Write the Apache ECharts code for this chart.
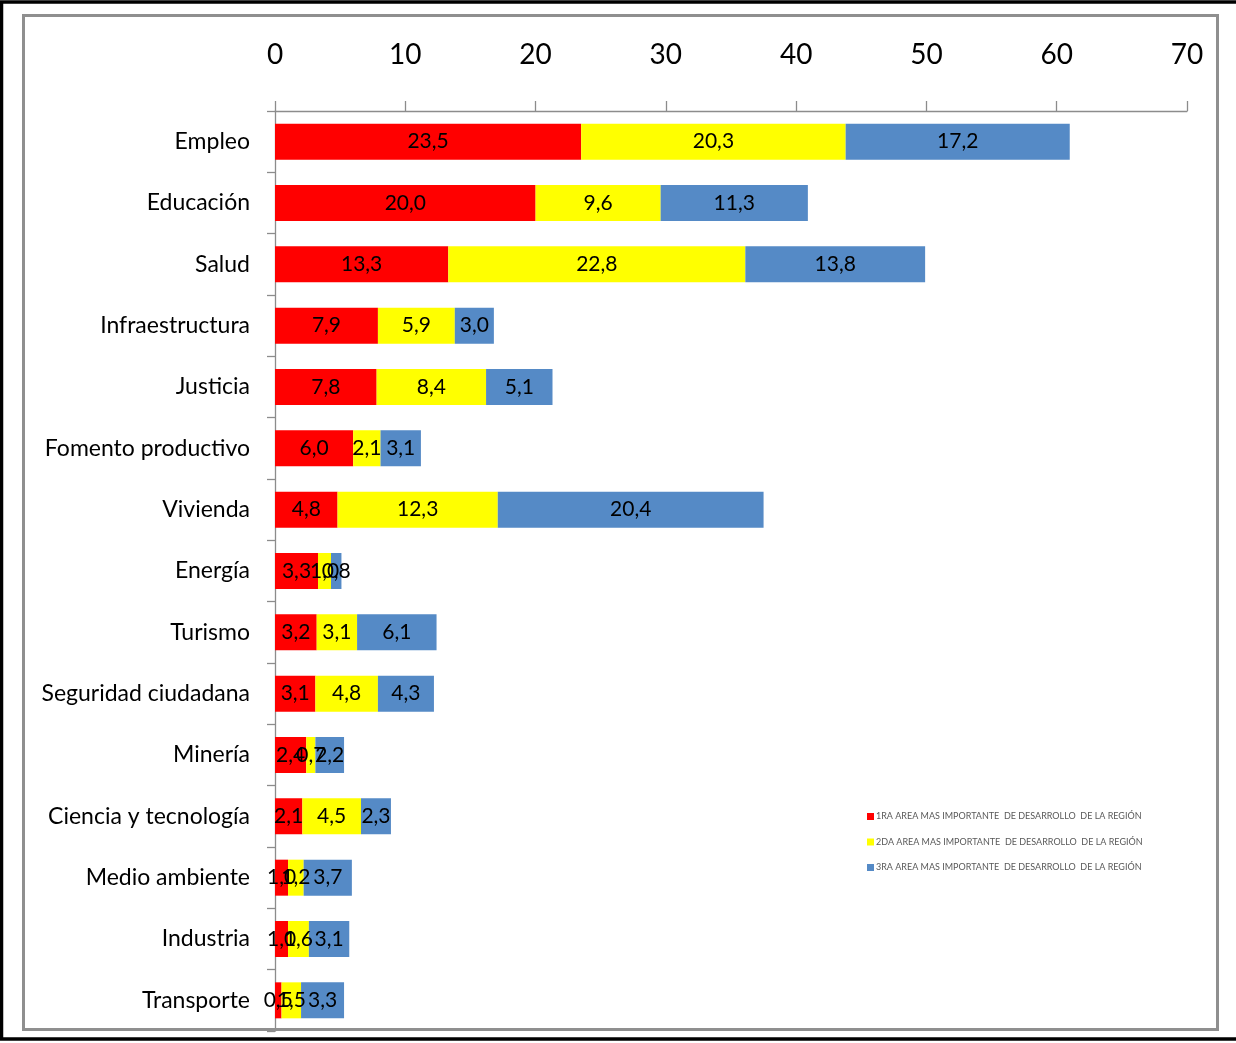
<!DOCTYPE html>
<html>
<head>
<meta charset="utf-8">
<script src="https://cdn.jsdelivr.net/npm/echarts@6/dist/echarts.min.js"></script>
<style>
html,body{margin:0;padding:0;background:#fff;}
#c{width:1236px;height:1043px;}
</style>
</head>
<body>
<div id="c"></div>
<script>
const categories = ["Empleo","Educación","Salud","Infraestructura","Justicia","Fomento productivo","Vivienda","Energía","Turismo","Seguridad ciudadana","Minería","Ciencia y tecnología","Medio ambiente","Industria","Transporte"];
const seriesNames = ["1RA AREA MAS IMPORTANTE  DE DESARROLLO  DE LA REGIÓN","2DA AREA MAS IMPORTANTE  DE DESARROLLO  DE LA REGIÓN","3RA AREA MAS IMPORTANTE  DE DESARROLLO  DE LA REGIÓN"];
const primera = [23.5,20.0,13.3,7.9,7.8,6.0,4.8,3.3,3.2,3.1,2.4,2.1,1.0,1.0,0.5];
const segunda = [20.3,9.6,22.8,5.9,8.4,2.1,12.3,1.0,3.1,4.8,0.7,4.5,1.2,1.6,1.5];
const tercera = [17.2,11.3,13.8,3.0,5.1,3.1,20.4,0.8,6.1,4.3,2.2,2.3,3.7,3.1,3.3];
const xTicks = [0,10,20,30,40,50,60,70];
const colors = ["#FF0000","#FFFF00","#558AC6"];

const font = "Lato, 'DejaVu Sans', sans-serif";
const fmt = v => Number(v).toFixed(1).replace('.', ',');
function mk(name, data, color){
  return {
    name, type:'bar', stack:'total', data, barWidth:36,
    itemStyle:{color},
    label:{show:true, position:'inside', color:'#000', fontFamily:font, fontSize:21,
      formatter:p=>fmt(p.value)},
    emphasis:{disabled:true}
  };
}
const chart = echarts.init(document.getElementById('c'));
chart.setOption({
  animation:false,
  backgroundColor:'#fff',
  grid:{left:275, right:49, top:111, bottom:12, containLabel:false},
  xAxis:{type:'value', position:'top', min:xTicks[0], max:xTicks[xTicks.length-1], interval:10,
    axisLine:{show:true, lineStyle:{color:'#8c8c8c', width:1.3}},
    axisTick:{show:true, inside:false, length:10, lineStyle:{color:'#8c8c8c', width:1.3}},
    splitLine:{show:false},
    axisLabel:{margin:42, color:'#000', fontFamily:font, fontSize:28}},
  yAxis:{type:'category', data:categories, inverse:true,
    axisLine:{show:true, lineStyle:{color:'#8c8c8c', width:1.3}},
    axisTick:{show:true, inside:false, length:8, lineStyle:{color:'#8c8c8c', width:1.3}},
    axisLabel:{margin:25, color:'#000', fontFamily:font, fontSize:23}},
  legend:{orient:'vertical', left:862, top:807, itemWidth:7, itemHeight:7, itemGap:16.5,
    icon:'rect', textStyle:{color:'#595959', fontFamily:font, fontSize:9, padding:[0,0,0,-3]},
    data:seriesNames},
  series:[mk(seriesNames[0], primera, colors[0]), mk(seriesNames[1], segunda, colors[1]), mk(seriesNames[2], tercera, colors[2])],
  graphic:[
    {type:'rect', silent:true, z:100, shape:{x:1.5, y:2, width:1245, height:1037}, style:{fill:null, stroke:'#000', lineWidth:3.5}},
    {type:'rect', silent:true, z:100, shape:{x:23.5, y:15.5, width:1194, height:1014}, style:{fill:null, stroke:'#8f8f8f', lineWidth:3}}
  ]
});
</script>
</body>
</html>
